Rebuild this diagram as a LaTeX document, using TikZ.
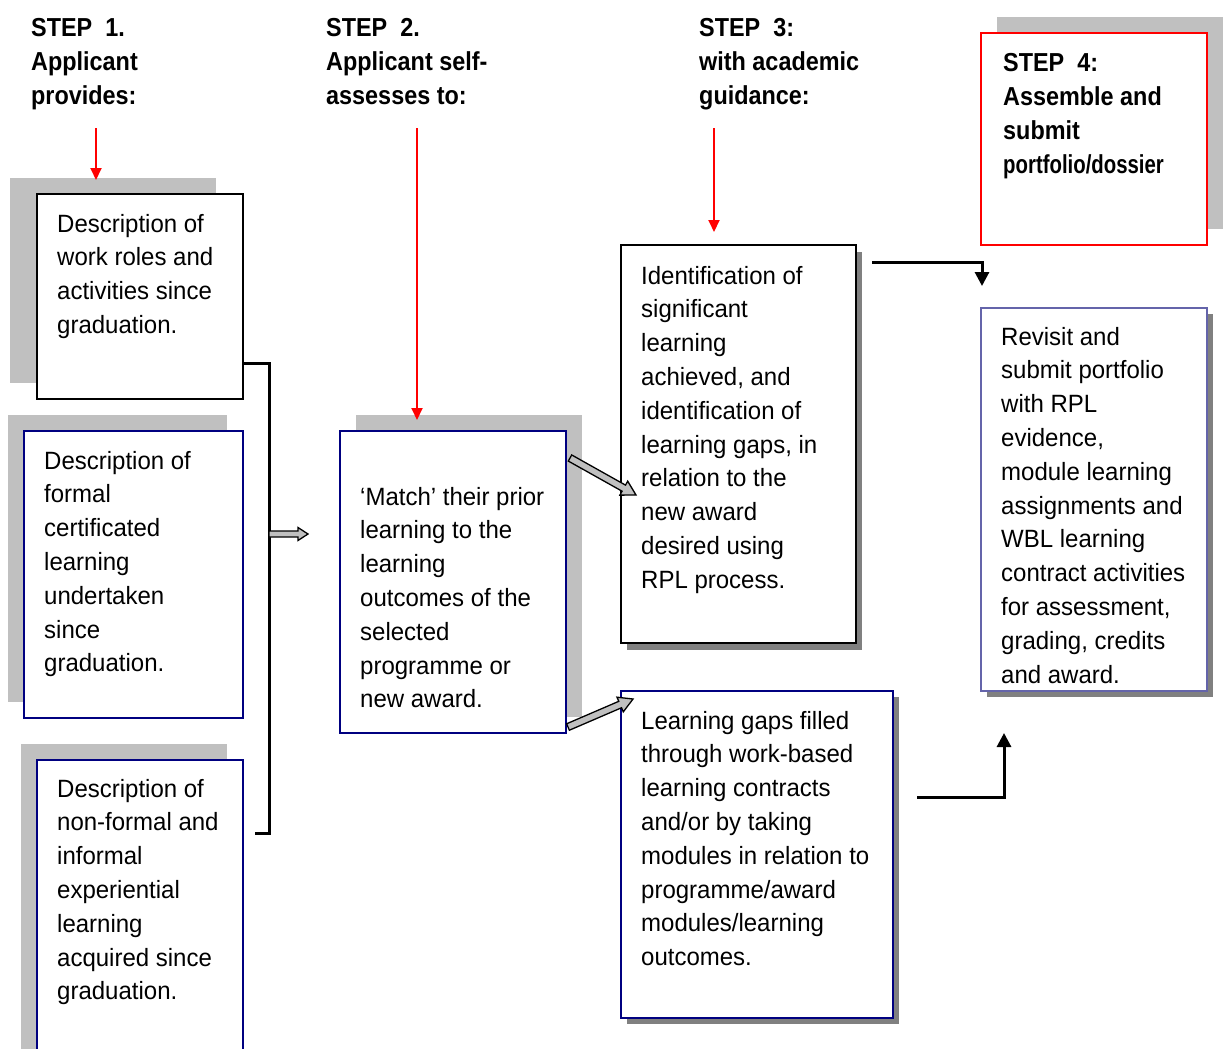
\documentclass[tikz,border=0pt]{standalone}
\usepackage{fontspec}
\setmainfont{Liberation Sans}[FakeStretch=0.96]
\newfontfamily\hdfont{Liberation Sans}[FakeStretch=0.9]
\usetikzlibrary{arrows.meta,calc}
\definecolor{navy}{RGB}{0,0,128}
\definecolor{lblue}{RGB}{100,100,170}
\definecolor{lshade}{RGB}{192,192,192}
\definecolor{dshade}{RGB}{128,128,128}
\begin{document}
\begin{tikzpicture}[x=1pt,y=-1pt,
  body/.style={font=\fontsize{25}{33.8}\selectfont, align=left, inner sep=0pt, anchor=base west},
  head/.style={font=\hdfont\bfseries\fontsize{26}{34}\selectfont, align=left, inner sep=0pt, anchor=base west},
  boxbase/.style={fill=white, line width=2pt, inner sep=0pt, outer sep=0pt},
  lightshadow/.style={fill=lshade},
  darkshadow/.style={fill=dshade},
  redarrow/.style={draw=red, line width=2pt, -{Triangle[width=11pt,length=12pt]}},
  elbow/.style={line width=3pt, -{Triangle[width=14pt,length=14pt]}},
  bracket/.style={line width=3pt},
  barrow/.style n args={3}{draw=black, fill=lshade, line width=1.3pt, line join=miter,
    to path={
      ($(\tikztostart)!#1!90:(\tikztotarget)$)
      -- ($($(\tikztotarget)!#3!(\tikztostart)$)!#1!90:(\tikztotarget)$)
      -- ($($(\tikztotarget)!#3!(\tikztostart)$)!#2!90:(\tikztotarget)$)
      -- (\tikztotarget)
      -- ($($(\tikztotarget)!#3!(\tikztostart)$)!#2!-90:(\tikztotarget)$)
      -- ($($(\tikztotarget)!#3!(\tikztostart)$)!#1!-90:(\tikztotarget)$)
      -- ($(\tikztostart)!#1!-90:(\tikztotarget)$)
      -- cycle}}
]
\useasboundingbox (0,0) rectangle (1224,1049);
\fill[white] (0,0) rectangle (1224,1049);

% ---------- shadows ----------
\fill[lightshadow] (10,178) rectangle (216,383);
\fill[lightshadow] (8,415) rectangle (227,702);
\fill[lightshadow] (21,744) rectangle (227,1060);
\fill[lightshadow] (356,415) rectangle (582,717);
\fill[lightshadow] (997,17) rectangle (1223,229);
\fill[darkshadow] (627,252) rectangle (862,650);
\fill[darkshadow] (627,697) rectangle (899,1024);
\fill[darkshadow] (987,314) rectangle (1213,697);

% ---------- boxes ----------
\node[boxbase, draw=black, minimum width=206pt, minimum height=205pt] (b1) at (140,296.5) {};
\node[boxbase, draw=navy, minimum width=219pt, minimum height=287pt] (b2) at (133.5,574.5) {};
\node[boxbase, draw=navy, minimum width=206pt, minimum height=300pt] (b3) at (140,910) {};
\node[boxbase, draw=navy, minimum width=226pt, minimum height=302pt] (b4) at (453,582) {};
\node[boxbase, draw=black, minimum width=235pt, minimum height=398pt] (b5) at (738.5,444) {};
\node[boxbase, draw=navy, minimum width=272pt, minimum height=327pt] (b6) at (757,854.5) {};
\node[boxbase, draw=red, minimum width=226pt, minimum height=212pt] (s4) at (1094,139) {};
\node[boxbase, draw=lblue, minimum width=226pt, minimum height=383pt] (b7) at (1094,499.5) {};

% ---------- headings (anchored at the baseline of the last line) ----------
\node[head] (h1) at (31,104) {STEP\ \ 1.\\Applicant\\provides:};
\node[head] (h2) at (326,104) {STEP\ \ 2.\\Applicant self-\\assesses to:};
\node[head] (h3) at (699,104) {STEP\ \ 3:\\with academic\\guidance:};
\node[head] (h4) at (1003,173) {STEP\ \ 4:\\Assemble and\\submit\\\scalebox{0.87}[1]{portfolio/dossier}};

% ---------- texts (anchored at the baseline of the last line) ----------
\node[body] (t1) at (57,333.4) {Description of\\work roles and\\activities since\\graduation.};
\node[body] (t2) at (44,671.8) {Description of\\formal\\certificated\\learning\\undertaken\\since\\graduation.};
\node[body] (t3) at (57,999.8) {Description of\\non-formal and\\informal\\experiential\\learning\\acquired since\\graduation.};
\node[body] (t4) at (360,707.8) {‘Match’ their prior\\learning to the\\learning\\outcomes of the\\selected\\programme or\\new award.};
\node[body] (t5) at (641,588.2) {Identification of\\significant\\learning\\achieved, and\\identification of\\learning gaps, in\\relation to the\\new award\\desired using\\RPL process.};
\node[body] (t6) at (641,965.6) {Learning gaps filled\\through work-based\\learning contracts\\and/or by taking\\modules in relation to\\programme/award\\modules/learning\\outcomes.};
\node[body] (t7) at (1001,683) {Revisit and\\submit portfolio\\with RPL\\evidence,\\module learning\\assignments and\\WBL learning\\contract activities\\for assessment,\\grading, credits\\and award.};

% ---------- connector end points ----------
\coordinate (r1s) at (96,128);  \coordinate (r1e) at (96,180);
\coordinate (r2s) at (417,128); \coordinate (r2e) at (417,420);
\coordinate (r3s) at (714,128); \coordinate (r3e) at (714,232);
\coordinate (br1) at (269,363); \coordinate (br2) at (269,833); \coordinate (br3) at (255,833);
\coordinate (ba1s) at (269,534); \coordinate (ba1e) at (308,534);
\coordinate (ba2s) at (570,458); \coordinate (ba2e) at (636,495);
\coordinate (ba3s) at (568,727); \coordinate (ba3e) at (633,699);
\coordinate (e1s) at (872,262); \coordinate (e1e) at (982,286);
\coordinate (e2s) at (917,797); \coordinate (e2e) at (1004,733);

% ---------- connectors ----------
\draw[redarrow] (r1s) -- (r1e);
\draw[redarrow] (r2s) -- (r2e);
\draw[redarrow] (r3s) -- (r3e);
\draw[bracket] (b1.east |- br1) -- (br1) -- (br2) -- (br3);
\draw[barrow={3pt}{6.5pt}{10pt}] (ba1s) to (ba1e);
\draw[barrow={3.5pt}{8pt}{14pt}] (ba2s) to (ba2e);
\draw[barrow={3.5pt}{8pt}{14pt}] (ba3s) to (ba3e);
\draw[elbow] (e1s) -| (e1e);
\draw[elbow] (e2s) -| (e2e);
\end{tikzpicture}
\end{document}
